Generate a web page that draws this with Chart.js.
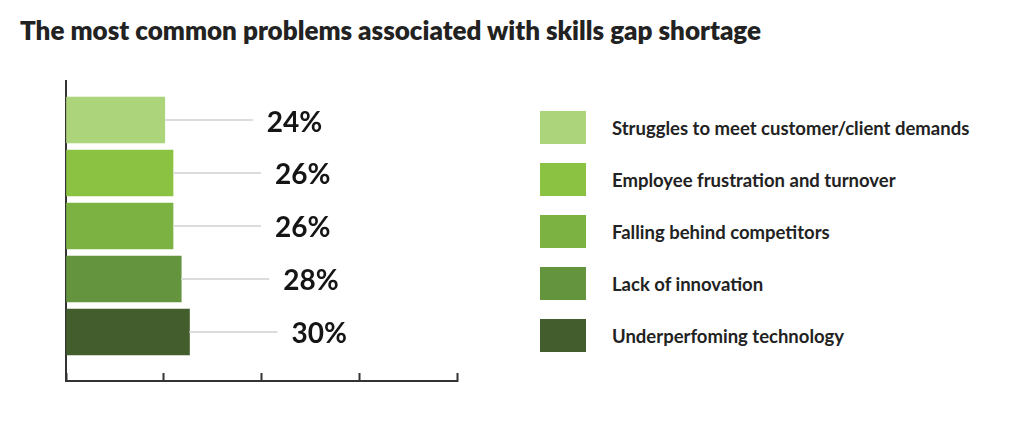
<!DOCTYPE html>
<html>
<head>
<meta charset="utf-8">
<title>Skills gap shortage</title>
<script src="https://cdn.jsdelivr.net/npm/chart.js@4.4.1/dist/chart.umd.min.js"></script>
<style>
  body { margin: 0; background: #fff; font-family: Lato, sans-serif; }
  #wrap { position: relative; width: 1024px; height: 423px; overflow: hidden; }
  h1 { position: absolute; left: 20px; top: 15px; margin: 0; font-size: 26px; font-weight: 800; color: #222; line-height: 1.2; white-space: nowrap; }
  #chartBox { position: absolute; left: 0; top: 0; width: 520px; height: 423px; }
  #legend { position: absolute; left: 540px; top: 111px; margin: 0; padding: 0; list-style: none; }
  #legend li { display: flex; align-items: center; height: 33px; margin-bottom: 19px; }
  #legend .sw { width: 46px; height: 33px; margin-right: 26px; }
  #legend .txt { font-size: 18.5px; font-weight: 700; color: #222; white-space: nowrap; }
</style>
</head>
<body>
<div id="wrap">
  <h1>The most common problems associated with skills gap shortage</h1>
  <div id="chartBox"><canvas id="skillsChart"></canvas></div>
  <ul id="legend"></ul>
</div>
<script>
// values
const categories = [
  'Struggles to meet customer/client demands',
  'Employee frustration and turnover',
  'Falling behind competitors',
  'Lack of innovation',
  'Underperfoming technology'
];
const shares = [24, 26, 26, 28, 30];
const barColors = ['#acd47a', '#8cc241', '#7cb242', '#64953e', '#435d2c'];
const xTickValues = [0, 23.75, 47.5, 71.25, 95];

// html legend built from the same arrays
const legendEl = document.getElementById('legend');
categories.forEach((name, i) => {
  const li = document.createElement('li');
  const sw = document.createElement('span');
  sw.className = 'sw';
  sw.style.background = barColors[i];
  const txt = document.createElement('span');
  txt.className = 'txt';
  txt.textContent = name;
  li.appendChild(sw);
  li.appendChild(txt);
  legendEl.appendChild(li);
});

// leader line + percentage next to each bar
const valueLabels = {
  id: 'valueLabels',
  afterDatasetsDraw(chart) {
    const ctx = chart.ctx;
    const meta = chart.getDatasetMeta(0);
    ctx.save();
    meta.data.forEach((bar, i) => {
      ctx.strokeStyle = '#dcdcdc';
      ctx.lineWidth = 2;
      ctx.beginPath();
      ctx.moveTo(bar.x, bar.y);
      ctx.lineTo(bar.x + 88, bar.y);
      ctx.stroke();
      ctx.fillStyle = '#151515';
      ctx.font = '700 28px Lato';
      ctx.textAlign = 'left';
      ctx.textBaseline = 'alphabetic';
      ctx.fillText(shares[i] + '%', bar.x + 102, bar.y + 11.5);
    });
    ctx.restore();
  }
};

const ctx = document.getElementById('skillsChart');
new Chart(ctx, {
  type: 'bar',
  data: {
    datasets: [{
      label: 'Share',
      data: shares.map((v, i) => ({ x: v, y: i })),
      backgroundColor: barColors,
      borderWidth: 0,
      barThickness: 46
    }]
  },
  options: {
    indexAxis: 'y',
    responsive: true,
    maintainAspectRatio: false,
    animation: false,
    layout: { padding: { left: 20, top: 81, right: 63, bottom: 42 } },
    plugins: {
      legend: { display: false },
      tooltip: { enabled: false },
      title: { display: false }
    },
    scales: {
      x: {
        type: 'linear',
        min: 0,
        max: 95,
        afterBuildTicks: (scale) => { scale.ticks = xTickValues.map(v => ({ value: v })); },
        afterFit: (scale) => { scale.height = 0; },
        ticks: { display: false },
        grid: {
          display: true,
          drawOnChartArea: false,
          drawTicks: true,
          tickLength: -8,
          tickColor: '#333',
          tickWidth: 2
        },
        border: { display: true, color: '#333', width: 2 }
      },
      y: {
        type: 'linear',
        offset: false,
        min: -0.736,
        max: 4.925,
        reverse: true,
        afterFit: (scale) => { scale.width = 46; },
        ticks: { display: false },
        grid: { display: false, offset: false },
        border: { display: true, color: '#333', width: 2 }
      }
    }
  },
  plugins: [valueLabels]
});
</script>
</body>
</html>
